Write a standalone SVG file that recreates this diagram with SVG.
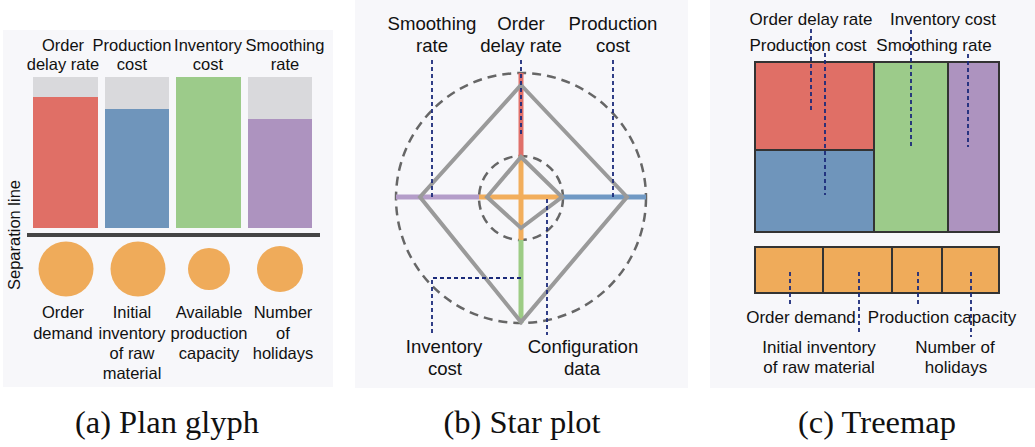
<svg xmlns="http://www.w3.org/2000/svg" width="1035" height="447" viewBox="0 0 1035 447">
<style>
.bg{fill:#f7f7fa}
.t{font-family:"Liberation Sans",Arial,sans-serif;fill:#111;text-anchor:middle}
.ta{font-size:16.5px}
.tb{font-size:18.6px}
.tc{font-size:17px}
.cap{font-family:"Liberation Serif","Times New Roman",serif;font-size:32.5px;fill:#111;text-anchor:middle}
.gray{fill:#d9d9dc}
.red{fill:#e06f66}
.blue{fill:#6f95bb}
.green{fill:#9ccb8a}
.purple{fill:#ad93bf}
.orange{fill:#efab5a}
.tm{stroke:#333;stroke-width:2}
.lead{stroke:#1b2a7a;stroke-width:1.8;stroke-dasharray:4 3;fill:none}
.ring{fill:none;stroke:#666;stroke-width:2.5;stroke-dasharray:9 6}
.dia{fill:none;stroke:#9a9a9a;stroke-width:4;stroke-linejoin:miter}
.ax{stroke-width:5;fill:none}
</style>

<!-- Panel backgrounds -->
<rect class="bg" x="3" y="30" width="330" height="357"/>
<rect class="bg" x="355" y="0" width="333" height="388"/>
<rect class="bg" x="710" y="0" width="325" height="388"/>

<!-- (a) Plan glyph -->
<g id="plan-glyph">
  <g id="a-order-delay-rate">
    <rect class="gray" x="33" y="77" width="65" height="20"/>
    <rect class="red" x="33" y="97" width="65" height="131"/>
    <text class="t ta" x="63" y="51">Order</text>
    <text class="t ta" x="63" y="70">delay rate</text>
  </g>
  <g id="a-production-cost">
    <rect class="gray" x="105" y="77" width="64" height="32"/>
    <rect class="blue" x="105" y="109" width="64" height="119"/>
    <text class="t ta" x="132" y="51">Production</text>
    <text class="t ta" x="132" y="70">cost</text>
  </g>
  <g id="a-inventory-cost">
    <rect class="green" x="176" y="77" width="65" height="151"/>
    <text class="t ta" x="208" y="51">Inventory</text>
    <text class="t ta" x="208" y="70">cost</text>
  </g>
  <g id="a-smoothing-rate">
    <rect class="gray" x="248" y="77" width="64" height="42"/>
    <rect class="purple" x="248" y="119" width="64" height="109"/>
    <text class="t ta" x="285" y="51">Smoothing</text>
    <text class="t ta" x="285" y="70">rate</text>
  </g>
  <g id="a-separation-line">
    <rect x="27" y="233" width="293" height="4" fill="#454545"/>
    <text class="t ta" transform="translate(20,235) rotate(-90)">Separation line</text>
  </g>
  <g id="a-order-demand">
    <circle class="orange" cx="66" cy="269" r="27.5"/>
    <text class="t ta" x="63" y="318">Order</text>
    <text class="t ta" x="63" y="339">demand</text>
  </g>
  <g id="a-initial-inventory">
    <circle class="orange" cx="138" cy="269" r="27.5"/>
    <text class="t ta" x="132" y="318">Initial</text>
    <text class="t ta" x="132" y="339">inventory</text>
    <text class="t ta" x="132" y="359">of raw</text>
    <text class="t ta" x="132" y="379">material</text>
  </g>
  <g id="a-available-capacity">
    <circle class="orange" cx="209" cy="269" r="21"/>
    <text class="t ta" x="209" y="318">Available</text>
    <text class="t ta" x="209" y="339">production</text>
    <text class="t ta" x="209" y="359">capacity</text>
  </g>
  <g id="a-number-of-holidays">
    <circle class="orange" cx="280" cy="269" r="23"/>
    <text class="t ta" x="283" y="318">Number</text>
    <text class="t ta" x="283" y="339">of</text>
    <text class="t ta" x="283" y="359">holidays</text>
  </g>
  <text class="cap" x="167" y="433">(a) Plan glyph</text>
</g>

<!-- (b) Star plot -->
<g id="star-plot">
  <g id="b-rings">
    <circle class="ring" cx="521" cy="198" r="125"/>
    <circle class="ring" cx="521" cy="198" r="42"/>
  </g>
  <g id="b-axes">
    <line class="ax" x1="396" y1="197" x2="479" y2="197" stroke="#b49dc9"/>
    <line class="ax" x1="563" y1="197" x2="646" y2="197" stroke="#7099c4"/>
    <line class="ax" x1="521" y1="73" x2="521" y2="156" stroke="#e0706a"/>
    <line class="ax" x1="521" y1="240" x2="521" y2="323" stroke="#9dcc85"/>
    <line class="ax" x1="479" y1="197" x2="563" y2="197" stroke="#f2ae5c"/>
    <line class="ax" x1="521" y1="156" x2="521" y2="240" stroke="#f2ae5c"/>
  </g>
  <g id="b-outer-diamond">
    <polygon class="dia" points="521,85 627,197 521,322 420,197"/>
  </g>
  <g id="b-inner-diamond">
    <polygon class="dia" points="521,157 562,197 521,228 487,197"/>
  </g>
  <g id="b-label-smoothing">
    <text class="t tb" x="432" y="30">Smoothing</text>
    <text class="t tb" x="432" y="52">rate</text>
  </g>
  <g id="b-label-order-delay">
    <text class="t tb" x="521" y="30">Order</text>
    <text class="t tb" x="521" y="52">delay rate</text>
  </g>
  <g id="b-label-production">
    <text class="t tb" x="613" y="30">Production</text>
    <text class="t tb" x="613" y="52">cost</text>
  </g>
  <g id="b-label-inventory">
    <text class="t tb" x="444" y="353">Inventory</text>
    <text class="t tb" x="445" y="375">cost</text>
  </g>
  <g id="b-label-configuration">
    <text class="t tb" x="583" y="353">Configuration</text>
    <text class="t tb" x="582" y="375">data</text>
  </g>
  <text class="cap" x="522" y="433">(b) Star plot</text>
</g>

<!-- (c) Treemap -->
<g id="treemap">
  <g id="c-order-delay-rate"><rect class="red tm" x="755" y="62" width="119" height="88"/></g>
  <g id="c-production-cost"><rect class="blue tm" x="755" y="150" width="119" height="82"/></g>
  <g id="c-inventory-cost"><rect class="green tm" x="874" y="62" width="74" height="170"/></g>
  <g id="c-smoothing-rate"><rect class="purple tm" x="948" y="62" width="51" height="170"/></g>
  <g id="c-order-demand"><rect class="orange tm" x="755" y="247" width="68" height="46"/></g>
  <g id="c-initial-inventory"><rect class="orange tm" x="823" y="247" width="69" height="46"/></g>
  <g id="c-production-capacity"><rect class="orange tm" x="892" y="247" width="50" height="46"/></g>
  <g id="c-number-of-holidays"><rect class="orange tm" x="942" y="247" width="57" height="46"/></g>
  <g id="c-labels">
    <text class="t tc" x="811" y="25">Order delay rate</text>
    <text class="t tc" x="943" y="25">Inventory cost</text>
    <text class="t tc" x="808" y="51">Production cost</text>
    <text class="t tc" x="934" y="51">Smoothing rate</text>
    <text class="t tc" x="801" y="323">Order demand</text>
    <text class="t tc" x="942" y="323">Production capacity</text>
    <text class="t tc" x="819" y="353">Initial inventory</text>
    <text class="t tc" x="819" y="373">of raw material</text>
    <text class="t tc" x="955" y="353">Number of</text>
    <text class="t tc" x="956" y="373">holidays</text>
  </g>
  <text class="cap" x="877" y="433">(c) Treemap</text>
</g>

<!-- Connectors (dashed leader lines) -->
<g id="connectors">
  <line class="lead" x1="432" y1="60" x2="432" y2="197"/>
  <line class="lead" x1="521" y1="60" x2="521" y2="135"/>
  <line class="lead" x1="613" y1="60" x2="613" y2="197"/>
  <polyline class="lead" points="521,278 432,278 432,335"/>
  <line class="lead" x1="547" y1="199" x2="547" y2="335"/>
  <line class="lead" x1="811" y1="29" x2="811" y2="110"/>
  <line class="lead" x1="825" y1="53" x2="825" y2="195"/>
  <line class="lead" x1="911" y1="30" x2="911" y2="147"/>
  <line class="lead" x1="968" y1="54" x2="968" y2="147"/>
  <line class="lead" x1="790" y1="272" x2="790" y2="305"/>
  <line class="lead" x1="859" y1="272" x2="859" y2="333"/>
  <line class="lead" x1="918" y1="272" x2="918" y2="307"/>
  <line class="lead" x1="971" y1="272" x2="971" y2="337"/>
</g>
</svg>
